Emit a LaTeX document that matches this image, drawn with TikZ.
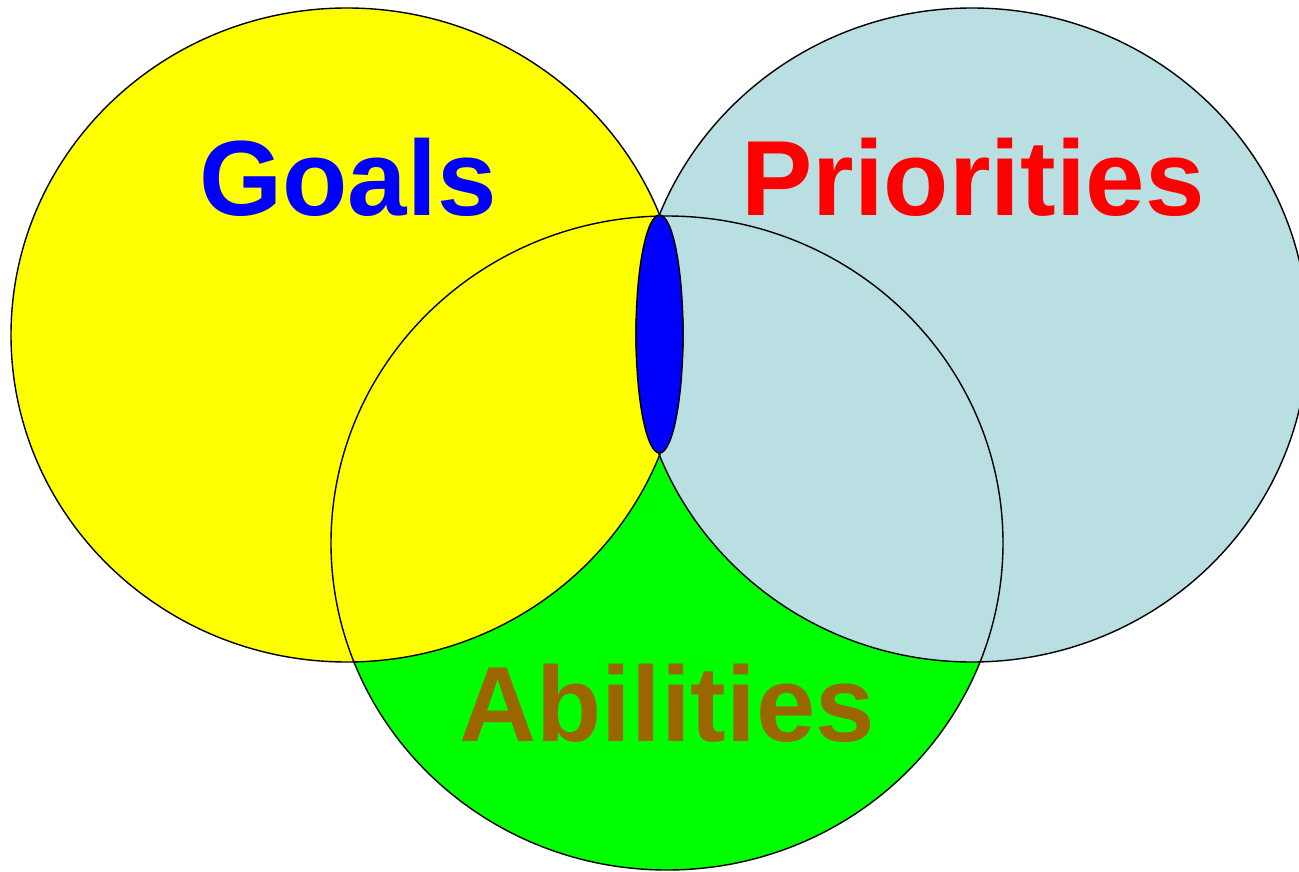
\documentclass[tikz,border=0pt]{standalone}
\usepackage{fontspec}
\setmainfont{Liberation Sans}
\definecolor{goalyellow}{RGB}{255,255,0}
\definecolor{abilgreen}{RGB}{0,255,0}
\definecolor{paleblue}{RGB}{185,223,226}
\definecolor{abilbrown}{RGB}{153,102,0}
\pgfdeclarelayer{bg}
\pgfsetlayers{bg,main}

\begin{document}
\begin{tikzpicture}
  [line width=0.8pt,every node/.style={anchor=base,font=\fontsize{30.4}{36}\selectfont\bfseries}]
  \useasboundingbox (0,0) rectangle (12.99,8.71);

\begin{pgfonlayer}{bg}
  \fill[abilgreen] (6.67,3.28) ellipse [x radius=3.36,y radius=3.27];
  \fill[goalyellow] (3.47,5.36) ellipse [x radius=3.36,y radius=3.27];
  \fill[paleblue] (9.72,5.36) ellipse [x radius=3.36,y radius=3.27];
\end{pgfonlayer}

\draw (6.67,3.28) ellipse [x radius=3.36,y radius=3.27];
\draw (3.47,5.36) ellipse [x radius=3.36,y radius=3.27];
\draw (9.72,5.36) ellipse [x radius=3.36,y radius=3.27];
\filldraw[fill=blue] (6.595,5.37) ellipse [x radius=0.235,y radius=1.19];

\node[text=blue] (l1) at (3.48,6.55) {Goals};
\node[text=red] (l2) at (9.73,6.55) {Priorities};
\node[text=abilbrown] (l3) at (6.67,1.30) {Abilities};

\end{tikzpicture}
\end{document}
